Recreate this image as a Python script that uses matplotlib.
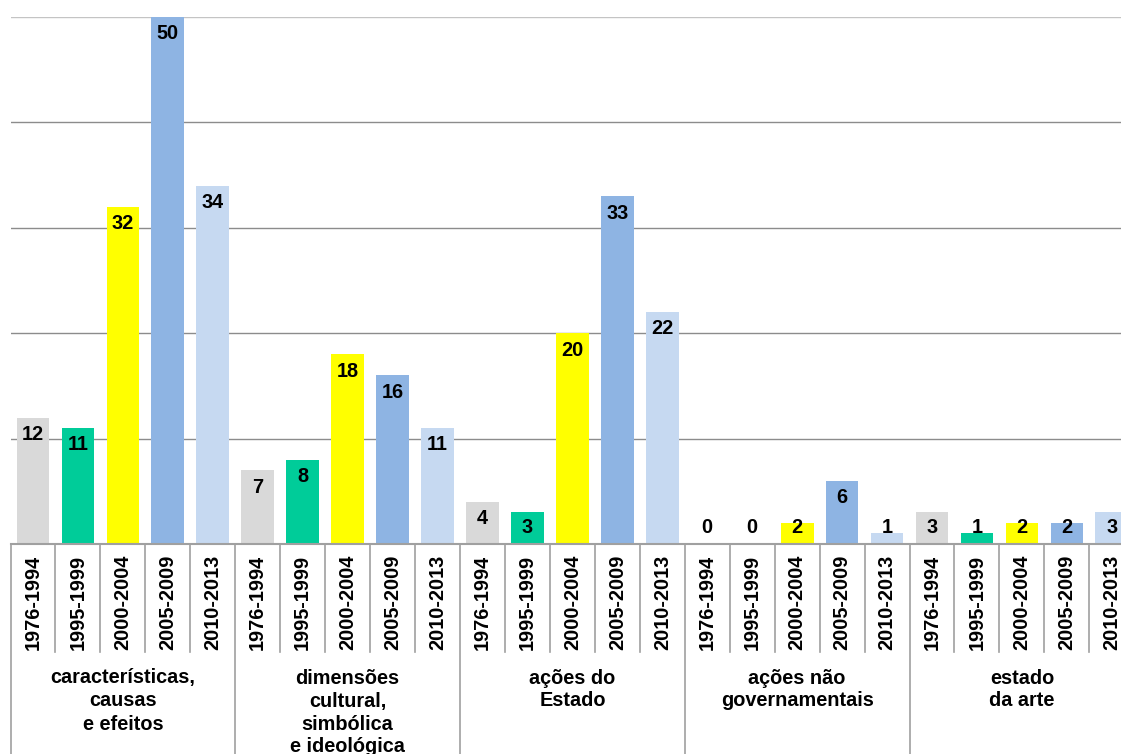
import matplotlib
matplotlib.use("Agg")
import matplotlib.pyplot as plt
import numpy as np

# Publications per theme and period
themes = [
    ["características,", "causas", "e efeitos"],
    ["dimensões", "cultural,", "simbólica", "e ideológica"],
    ["ações do", "Estado"],
    ["ações não", "governamentais"],
    ["estado", "da arte"],
]
periods = ["1976-1994", "1995-1999", "2000-2004", "2005-2009", "2010-2013"]
caracteristicas = [12, 11, 32, 50, 34]
dimensoes = [7, 8, 18, 16, 11]
acoes_estado = [4, 3, 20, 33, 22]
acoes_nao_gov = [0, 0, 2, 6, 1]
estado_arte = [3, 1, 2, 2, 3]
period_colors = ["#D9D9D9", "#00CC99", "#FFFF00", "#8EB4E3", "#C6D9F1"]

series = [caracteristicas, dimensoes, acoes_estado, acoes_nao_gov, estado_arte]

W, H = 1121, 754
FS = 14.3
fig = plt.figure(figsize=(W / 100, H / 100), dpi=100)
plt.rcParams["font.family"] = ["Liberation Sans", "DejaVu Sans"]

# plot area in pixels
left_px, right_px = 10.5, 1134.3
top_px, base_px = 17, 544
ax = fig.add_axes([left_px / W, (H - base_px) / H,
                   (right_px - left_px) / W, (base_px - top_px) / H])
ax.set_xlim(-0.5, 24.5)
ax.set_ylim(0, 50)
for s in ax.spines.values():
    s.set_visible(False)
ax.set_xticks([])
ax.set_yticks([])

# horizontal gridlines
for v in [10, 20, 30, 40]:
    ax.axhline(v, color="#8C8C8C", lw=1.0, zorder=0)
ax.axhline(50, color="#C4C4C4", lw=1.0, zorder=0)

n = len(periods)
xs, vals, cols, per_idx = [], [], [], []
for g, values in enumerate(series):
    for i, v in enumerate(values):
        xs.append(g * n + i)
        vals.append(v)
        cols.append(period_colors[i])
        per_idx.append(i)

ax.bar(xs, vals, width=0.727, color=cols, zorder=2)

# value labels inside the top of each bar
for x, v in zip(xs, vals):
    y = max(v - 1.6, 1.52)
    ax.text(x, y, str(v), ha="center", va="center", fontsize=FS,
            fontweight="bold", color="black", zorder=3)

# category axis drawn below the plot area
ppu = (base_px - top_px)


def yfrac(py):
    return (base_px - py) / ppu


trans = ax.get_xaxis_transform()
ax.plot([-0.5, 24.5], [0, 0], transform=trans, color="#A0A0A0", lw=1.5,
        clip_on=False, zorder=4)
for k in range(26):
    xb = k - 0.5
    bottom = H + 5 if k % n == 0 else 652
    ax.plot([xb, xb], [0, yfrac(bottom)], transform=trans, color="#A0A0A0",
            lw=1.2, clip_on=False, zorder=4)

for x, i in zip(xs, per_idx):
    ax.text(x, yfrac(555), periods[i], transform=trans, rotation=90,
            ha="center", va="top", fontsize=FS, fontweight="bold")

for g, lines in enumerate(themes):
    xc = g * n + (n - 1) / 2
    for j, line in enumerate(lines):
        ax.text(xc, yfrac(683.5 + 23 * j), line, transform=trans,
                ha="center", va="baseline", fontsize=FS, fontweight="bold")

fig.savefig("out.png", dpi=100)
